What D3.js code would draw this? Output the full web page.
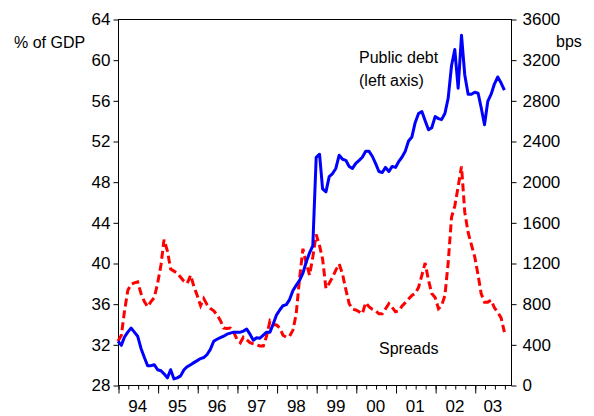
<!DOCTYPE html>
<html lang="en">
<head>
    <meta charset="UTF-8">
    <title>Public debt and spreads</title>
    <script src="https://d3js.org/d3.v7.min.js"></script>
    <style>
        body { margin: 0; background: #fff; }
        svg { font-family: Arial, "Liberation Sans", sans-serif; }
        .axis text { font-size: 17px; fill: #000; }
        .axis line { stroke: #000; }
        .label { font-size: 16px; fill: #000; }
    </style>
</head>
<body>
    <div id="chart"></div>

    <script>
        // Monthly observations, Jan 1994 onwards
        const startMonth = new Date(1994, 0, 1);

        // Public debt, % of GDP (left axis)
        const debt = [
            32.3, 31.9, 32.7, 33.2, 33.6, 33.2, 32.8, 31.6, 30.7, 29.9, 29.9, 30.0,
            29.5, 29.4, 29.1, 28.7, 29.5, 28.6, 28.7, 28.9, 29.5, 29.8, 30.0, 30.2,
            30.4, 30.6, 30.7, 31.0, 31.5, 32.3, 32.5, 32.65, 32.8, 33.0, 33.1, 33.2,
            33.2, 33.2, 33.3, 33.5, 33.0, 32.4, 32.65, 32.6, 32.9, 33.2, 33.2, 34.0,
            34.9, 35.4, 35.8, 35.9, 36.4, 37.3, 37.8, 38.3, 39.0, 40.1, 41.0, 41.7,
            50.4, 50.7, 47.3, 47.0, 48.5, 48.8, 49.3, 50.6, 50.2, 50.1, 49.5, 49.3,
            49.8, 50.1, 50.4, 51.0, 51.0, 50.5, 49.8, 49.0, 48.9, 49.4, 49.0, 49.5,
            49.4, 50.0, 50.4, 51.0, 52.0, 52.4, 53.8, 54.7, 54.9, 54.0, 53.1, 53.3,
            54.4, 54.2, 54.1, 54.7, 56.2, 59.4, 61.0, 57.2, 62.4, 58.5, 56.6, 56.6,
            56.8, 56.7, 55.3, 53.6, 55.9, 56.6, 57.6, 58.3, 57.7, 57.0
        ];

        // Spreads, basis points (right axis)
        const spreads = [
            430, 490, 720, 930, 990, 1005, 1015, 900, 820, 770, 820, 860,
            1000, 1180, 1430, 1320, 1140, 1120, 1100, 1060, 1020, 1000, 1080, 970,
            880, 780, 850, 790, 754, 730, 690, 635, 560, 555, 560, 520,
            450, 415, 470, 445, 416, 405, 395, 384, 384, 480, 630, 595,
            590, 560, 490, 470, 480, 540, 700, 1050, 1340, 1200, 1080, 1260,
            1480, 1370, 1240, 950, 1000, 1060, 1130, 1190, 1090, 940, 800, 745,
            738, 720, 700, 810, 770, 745, 730, 700, 700, 750, 800, 765,
            720, 730, 775, 810, 845, 880, 900, 960, 1080, 1200, 1030, 900,
            860, 750, 780, 880, 1200, 1650, 1760, 1950, 2150, 1700, 1500, 1380,
            1260, 1080, 900, 815, 815, 835, 760, 715, 660, 520
        ];

        const years = [1994, 1995, 1996, 1997, 1998, 1999, 2000, 2001, 2002, 2003];
        const yearLabels = ["94", "95", "96", "97", "98", "99", "00", "01", "02", "03"];
        const leftTicks = [28, 32, 36, 40, 44, 48, 52, 56, 60, 64];
        const rightTicks = [0, 400, 800, 1200, 1600, 2000, 2400, 2800, 3200, 3600];

        const W = 594, H = 416;
        const plot = {left: 118, right: 511, top: 19, bottom: 385};

        const svg = d3.select("#chart").append("svg")
            .attr("width", W)
            .attr("height", H);

        const monthOf = i => d3.timeMonth.offset(startMonth, i);
        const lastMonth = new Date(2003, 11, 1);

        const x = d3.scaleTime()
            .domain([startMonth, lastMonth])
            .range([plot.left, plot.right]);

        const yLeft = d3.scaleLinear()
            .domain([28, 64])
            .range([plot.bottom, plot.top]);

        const yRight = d3.scaleLinear()
            .domain([0, 3600])
            .range([plot.bottom, plot.top]);

        // frame
        svg.append("rect")
            .attr("x", plot.left + 0.5)
            .attr("y", plot.top + 0.5)
            .attr("width", plot.right - plot.left)
            .attr("height", plot.bottom - plot.top)
            .attr("fill", "none")
            .attr("stroke", "#000")
            .attr("stroke-width", 1);

        // left axis
        svg.append("g")
            .attr("class", "axis")
            .attr("transform", `translate(${plot.left + 0.5},0.5)`)
            .call(d3.axisLeft(yLeft).tickValues(leftTicks).tickSize(5).tickPadding(3))
            .call(g => g.select(".domain").remove());

        // right axis
        svg.append("g")
            .attr("class", "axis")
            .attr("transform", `translate(${plot.right + 0.5},0.5)`)
            .call(d3.axisRight(yRight).tickValues(rightTicks).tickSize(5).tickPadding(6).tickFormat(d3.format("d")))
            .call(g => g.select(".domain").remove());

        // bottom axis: quarterly minor ticks, yearly major ticks
        const quarters = d3.timeMonth.every(3).range(startMonth, d3.timeMonth.offset(lastMonth, 1));
        svg.append("g")
            .attr("class", "axis")
            .attr("transform", `translate(0.5,${plot.bottom + 0.5})`)
            .call(d3.axisBottom(x).tickValues(quarters).tickSize(4).tickFormat(""))
            .call(g => g.select(".domain").remove());

        svg.append("g")
            .attr("class", "axis")
            .attr("transform", `translate(0.5,${plot.bottom + 0.5})`)
            .call(d3.axisBottom(x).tickValues(years.map(yr => new Date(yr, 0, 1))).tickSize(8).tickFormat(""))
            .call(g => g.select(".domain").remove());

        // year labels centred in each year's span
        svg.append("g")
            .attr("class", "axis")
            .selectAll("text")
            .data(years)
            .enter().append("text")
            .attr("x", yr => (x(new Date(yr, 0, 1)) + Math.min(x(new Date(yr + 1, 0, 1)), plot.right)) / 2)
            .attr("y", 412)
            .attr("text-anchor", "middle")
            .text((yr, i) => yearLabels[i]);

        // series
        const debtLine = d3.line()
            .x((d, i) => x(monthOf(i)))
            .y(d => yLeft(d));

        const spreadLine = d3.line()
            .x((d, i) => x(monthOf(i)))
            .y(d => yRight(d));

        svg.append("path")
            .datum(spreads)
            .attr("fill", "none")
            .attr("stroke", "#ff0000")
            .attr("stroke-width", 3)
            .attr("stroke-dasharray", "8,4")
            .attr("d", spreadLine);

        svg.append("path")
            .datum(debt)
            .attr("fill", "none")
            .attr("stroke", "#0000ff")
            .attr("stroke-width", 3)
            .attr("stroke-linejoin", "round")
            .attr("d", debtLine);

        // annotations
        svg.append("text").attr("class", "label").attr("x", 14).attr("y", 48).text("% of GDP");
        svg.append("text").attr("class", "label").attr("x", 556).attr("y", 47).text("bps");
        svg.append("text").attr("class", "label").attr("x", 359).attr("y", 63).text("Public debt");
        svg.append("text").attr("class", "label").attr("x", 359).attr("y", 86).text("(left axis)");
        svg.append("text").attr("class", "label").attr("x", 379).attr("y", 354).text("Spreads");
    </script>
</body>
</html>
